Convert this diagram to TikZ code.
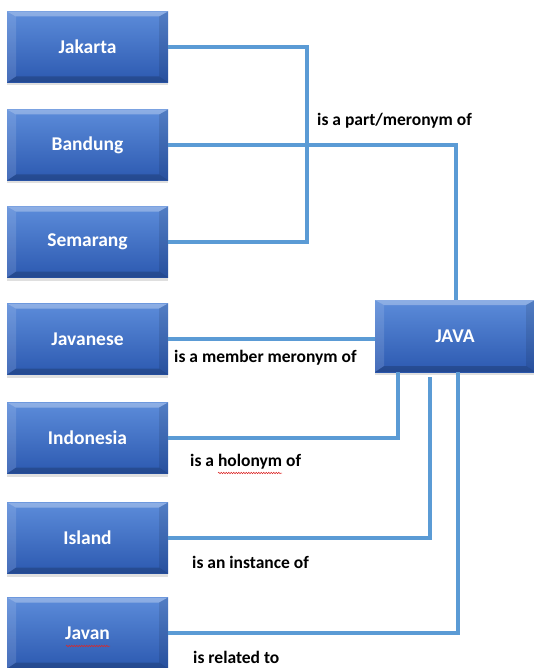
\documentclass[tikz,border=0pt]{standalone}
\usepackage{fontspec}
\setmainfont{Carlito}
\usetikzlibrary{shadows,decorations.pathmorphing,calc}

\definecolor{linkblue}{HTML}{5B9BD5}
\definecolor{boxtop}{RGB}{92,140,218}
\definecolor{boxbottom}{RGB}{44,89,176}
\definecolor{spellred}{RGB}{220,40,40}

\begin{document}
\begin{tikzpicture}[x=1pt,y=-1pt,
  blockbox/.style={minimum width=161pt, minimum height=71pt, inner sep=0pt,
    top color=boxtop, bottom color=boxbottom, text=white,
    font=\fontsize{19.5}{22}\selectfont\bfseries,
    drop shadow={shadow xshift=0pt, shadow yshift=-3pt, opacity=0.25, fill=gray},
    path picture={
      % bevelled rim: light top, darker bottom, soft sides
      \fill[white, opacity=0.30]
        (path picture bounding box.north west) -- (path picture bounding box.north east)
        -- ([xshift=-9pt,yshift=-5pt]path picture bounding box.north east)
        -- ([xshift=9pt,yshift=-5pt]path picture bounding box.north west) -- cycle;
      \fill[black, opacity=0.18]
        (path picture bounding box.south west) -- (path picture bounding box.south east)
        -- ([xshift=-9pt,yshift=6pt]path picture bounding box.south east)
        -- ([xshift=9pt,yshift=6pt]path picture bounding box.south west) -- cycle;
      \fill[white, opacity=0.12]
        (path picture bounding box.north west) -- ([xshift=9pt,yshift=-5pt]path picture bounding box.north west)
        -- ([xshift=9pt,yshift=6pt]path picture bounding box.south west)
        -- (path picture bounding box.south west) -- cycle;
      \fill[black, opacity=0.10]
        (path picture bounding box.north east) -- ([xshift=-9pt,yshift=-5pt]path picture bounding box.north east)
        -- ([xshift=-9pt,yshift=6pt]path picture bounding box.south east)
        -- (path picture bounding box.south east) -- cycle;
    }},
  link/.style={draw=linkblue, line width=3.5pt},
  relabel/.style={font=\fontsize{17.5}{20}\selectfont\bfseries, anchor=west, inner sep=0pt, text=black},
  spell/.style={draw=spellred, line width=0.5pt, decorate,
    decoration={snake, amplitude=0.8pt, segment length=2.5pt}}
]
\useasboundingbox (0,0) rectangle (534,668);

% word boxes on the left
\node[blockbox] (jakarta)   at (87.5,47)  {Jakarta};
\node[blockbox] (bandung)   at (87.5,145) {Bandung};
\node[blockbox] (semarang)  at (87.5,242) {Semarang};
\node[blockbox] (javanese)  at (87.5,339) {Javanese};
\node[blockbox] (indonesia) at (87.5,438) {Indonesia};
\node[blockbox] (island)    at (87.5,538) {Island};
\node[blockbox] (javan)     at (87.5,633) {Javan};

% the central concept
\node[blockbox, minimum width=160pt, minimum height=72pt] (java) at (455,336) {JAVA};

% connectors
\coordinate (bus) at (307,0);
\draw[link] (jakarta.east) -| (bus |- semarang.east) -- (semarang.east);
\draw[link] (bandung.east) -| ([xshift=1pt]java.north);
\draw[link] (javanese.east) -- (javanese.east -| java.west);
\draw[link] (indonesia.east) -| ([xshift=-57pt]java.south);
\draw[link] (island.east) -| ([xshift=-25pt,yshift=-5pt]java.south);
\draw[link] (javan.east) -| ([xshift=3pt]java.south);

% relation labels
\node[relabel] (lpart)     at (317,121) {is a part/meronym of};
\node[relabel] (lmember)   at (174,358) {is a member meronym of};
\node[relabel] (lholonym)  at (190,462) {is a holonym of};
\node[relabel] (linstance) at (192,562) {is an instance of};
\node[relabel] (lrelated)  at (193,657) {is related to};

% spell-check marks
\draw[spell] (218,473) -- (282,473);
\draw[spell] (66,646) -- (110,646);
\end{tikzpicture}
\end{document}
